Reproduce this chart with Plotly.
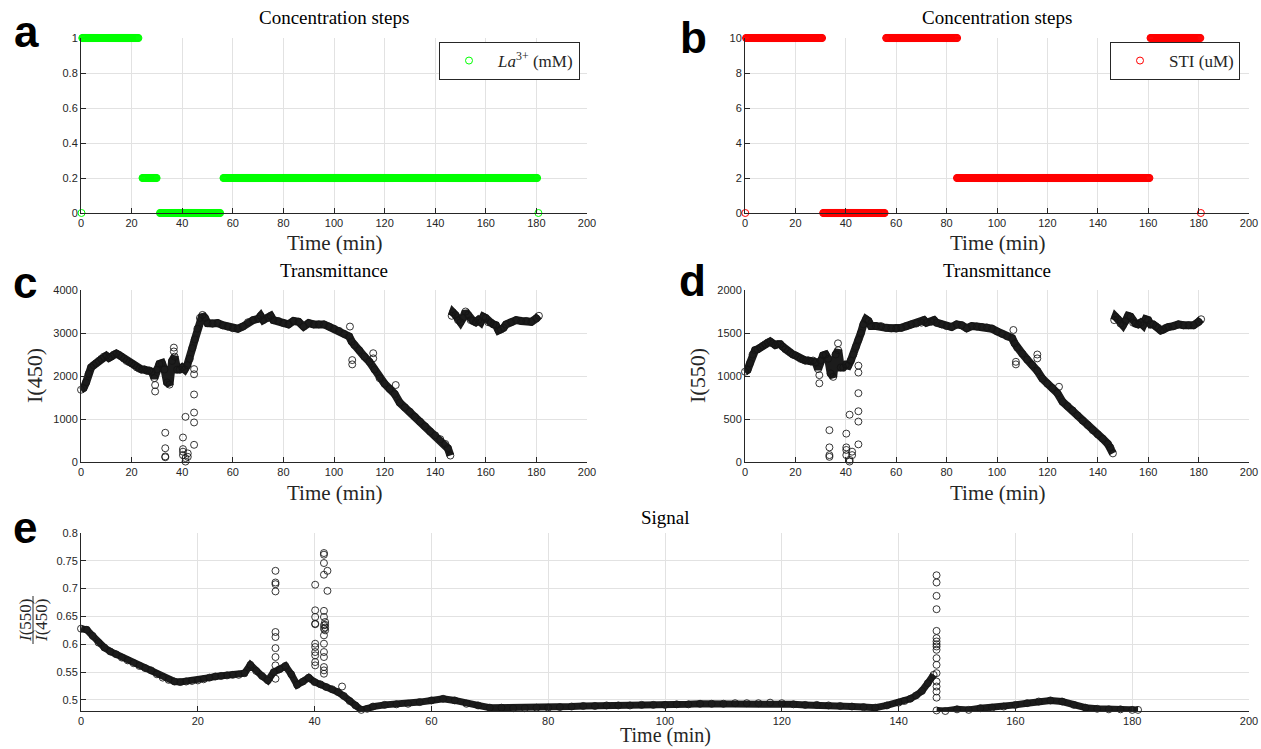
import numpy as np
import plotly.graph_objects as go

# ---------------- concentration steps (segment start, end in min, level) ----------------
la_start = [0.5, 24.3, 31.2, 56.3]
la_end = [22.8, 30.0, 55.0, 180.3]
la_level = [1.0, 0.2, 0.0, 0.2]
la_edge_t = [0.2, 180.8]          # lone zero readings at both ends

sti_start = [0.4, 31.0, 56.0, 84.1, 160.9]
sti_end = [30.6, 55.5, 84.3, 160.6, 180.7]
sti_level = [10, 0, 10, 2, 10]
sti_edge_t = [0.1, 180.9]

step_dt = 0.2   # logging interval of the step protocol (min)

# ---------------- transmittance, main trend (None = acquisition gap) ----------------
t_int = (list(range(0, 51)) + list(range(52, 71, 2)) + [71, 72, 74, 75, 76]
         + list(range(78, 107, 2)) + [107] + list(range(108, 145, 2)) + [145, 146]
         + [None] + [146.5] + list(range(147, 169)) + list(range(170, 181, 2)) + [181])

i450 = [1680, 1720, 1850, 2050, 2200, 2250, 2300, 2350, 2400, 2450,
        2470, 2420, 2450, 2500, 2520, 2490, 2450, 2400, 2350, 2320,
        2290, 2250, 2200, 2170, 2150, 2150, 2120, 2130, 2100, 1950,
        2150, 2280, 2300, 2150, 1850, 1800, 2350, 2450, 2150, 2150,
        2200, 2150, 2250, 2400, 2650, 2850, 3100, 3350, 3420, 3350,
        3230,
        3220, 3230, 3180, 3150, 3110, 3100, 3150, 3250, 3300, 3330,
        3400, 3300, 3350, 3400, 3300,
        3280, 3230, 3200, 3280, 3260, 3150, 3230, 3200, 3200, 3200, 3150, 3100, 3050, 2980, 2920,
        2800,
        2720, 2600, 2450, 2330, 2150, 1950, 1820, 1700, 1580, 1380,
        1270, 1170, 1050, 940, 830, 710, 620, 530, 420,
        320, 150,
        None,
        3400,
        3480, 3420, 3300, 3250, 3350, 3500, 3420, 3300, 3280, 3250, 3300,
        3250, 3380, 3350, 3250, 3240, 3200, 3180, 3060, 3080, 3120, 3200,
        3250, 3300, 3280, 3280, 3260, 3340,
        3400]

i550 = [1050, 1070, 1150, 1250, 1300, 1310, 1330, 1350, 1370, 1390,
        1400, 1380, 1360, 1370, 1370, 1340, 1310, 1290, 1270, 1250,
        1240, 1220, 1200, 1190, 1180, 1180, 1170, 1180, 1160, 1080,
        1180, 1240, 1250, 1200, 1030, 990, 1250, 1300, 1100, 1100,
        1130, 1120, 1180, 1250, 1340, 1420, 1500, 1600, 1660, 1640,
        1580,
        1580, 1580, 1560, 1555, 1550, 1560, 1580, 1600, 1610, 1620,
        1650, 1620, 1630, 1650, 1620,
        1600, 1580, 1570, 1600, 1590, 1555, 1580, 1575, 1570, 1565, 1550, 1520, 1490, 1460, 1440,
        1380,
        1330, 1260, 1190, 1130, 1060, 970, 910, 860, 800, 700,
        650, 600, 540, 480, 430, 370, 320, 270, 210,
        170, 100,
        None,
        1650,
        1690, 1660, 1610, 1590, 1640, 1700, 1690, 1620, 1610, 1600, 1620,
        1590, 1660, 1650, 1600, 1600, 1580, 1560, 1530, 1540, 1560, 1570,
        1580, 1600, 1590, 1590, 1590, 1630,
        1660]

# scattered readings off the trend
c_out_t = [29.3, 29.3, 33.3, 33.3, 33.3, 33.3, 36.7, 36.7, 40.3, 40.3, 40.3, 40.3,
           41.3, 41.3, 41.3, 42.2, 42.2, 44.7, 44.7, 44.7, 44.7, 44.7, 44.7,
           106.3, 107.2, 107.2, 115.5, 115.5, 124.4]
c_out_v = [1790, 1640, 680, 320, 130, 110, 2660, 2570, 570, 300, 240, 160,
           1050, 90, 10, 200, 120, 1570, 1150, 920, 400, 2040, 2160,
           3150, 2370, 2270, 2530, 2410, 1790]

d_out_t = [29.5, 29.5, 33.5, 33.5, 33.5, 33.5, 36.9, 40.2, 40.2, 40.2, 40.2,
           41.5, 41.5, 41.5, 42.5, 42.5, 45, 45, 45, 45, 45, 45,
           106.5, 107.5, 107.5, 116, 116, 124.6]
d_out_v = [1010, 915, 370, 170, 80, 60, 1380, 330, 170, 140, 80,
           550, 25, 5, 120, 80, 800, 590, 470, 205, 1120, 1040,
           1535, 1135, 1165, 1250, 1205, 875]

# ---------------- signal ratio ----------------
t_ratio = (list(range(0, 51)) + list(range(52, 141, 2)) + [141, 142, 143, 144, 145, 146]
           + [None] + [146.5] + list(range(148, 181, 2)) + [181])
ratio = [0.628, 0.626, 0.615, 0.603, 0.594, 0.587, 0.582, 0.576, 0.571, 0.566,
         0.561, 0.557, 0.553, 0.546, 0.540, 0.536, 0.533, 0.532, 0.533, 0.534,
         0.535, 0.537, 0.540, 0.542, 0.543, 0.544, 0.545, 0.545, 0.548, 0.563,
         0.552, 0.543, 0.535, 0.550, 0.555, 0.561, 0.546, 0.527, 0.533, 0.540,
         0.532, 0.528, 0.523, 0.519, 0.514, 0.507, 0.498, 0.490, 0.482, 0.484,
         0.488,
         0.491, 0.492, 0.493, 0.496, 0.499, 0.502, 0.499, 0.493, 0.490, 0.486,
         0.486, 0.485, 0.485, 0.486, 0.486, 0.487, 0.488, 0.489, 0.489, 0.490,
         0.490, 0.490, 0.491, 0.491, 0.491, 0.492, 0.492, 0.493, 0.493, 0.493,
         0.494, 0.494, 0.494, 0.495, 0.494, 0.492, 0.491, 0.491, 0.490, 0.489,
         0.488, 0.487, 0.486, 0.490, 0.495,
         0.498, 0.502, 0.508, 0.516, 0.530, 0.545,
         None,
         0.481,
         0.480, 0.483, 0.482, 0.485, 0.486, 0.488, 0.491, 0.494, 0.497, 0.499,
         0.497, 0.491, 0.486, 0.484, 0.483, 0.483, 0.482,
         0.482]

e_out_t = [33.3] * 10 + [40.1] * 11 + [41.6] * 15 + [41.8] * 4 + [42.2] * 2 + [44.7] + [146.5] * 17
e_out_v = [0.732, 0.711, 0.708, 0.695, 0.622, 0.613, 0.593, 0.577, 0.562, 0.538,
           0.707, 0.661, 0.649, 0.637, 0.636, 0.601, 0.595, 0.586, 0.580, 0.568, 0.562,
           0.764, 0.761, 0.746, 0.725, 0.660, 0.649, 0.634, 0.628, 0.616, 0.601,
           0.586, 0.577, 0.559, 0.553, 0.547,
           0.640, 0.635, 0.630, 0.625,
           0.732, 0.696,
           0.524,
           0.724, 0.711, 0.687, 0.663, 0.624, 0.611, 0.605, 0.600, 0.596, 0.590,
           0.575, 0.563, 0.548, 0.533, 0.524, 0.515, 0.504]

x_ticks = list(range(0, 201, 20))


def step_series(starts, ends, levels, edge_t):
    t, v = [], []
    for s, e, lv in zip(starts, ends, levels):
        seg = np.arange(s, e + 1e-9, step_dt)
        t.extend(seg.tolist())
        v.extend([lv] * len(seg))
    t = [edge_t[0]] + t + [edge_t[1]]
    v = [0] + v + [0]
    return t, v


W, H = 1261, 749
px = lambda x: x / W
py = lambda y: 1 - y / H

serif = "Liberation Serif, Times New Roman, serif"
tick_font = dict(family="Liberation Sans, Arial, sans-serif", size=11, color="#262626")


def ax(**kw):
    d = dict(showgrid=True, gridcolor="#e2e2e2", gridwidth=1, zeroline=False,
             showline=True, linecolor="#262626", linewidth=1, ticks="inside",
             ticklen=5, tickcolor="#262626", tickfont=tick_font, automargin=False)
    d.update(kw)
    return d


def time_axis(x0, x1, y_anchor):
    return ax(domain=[px(x0), px(x1)], range=[0, 200], tickvals=x_ticks, anchor=y_anchor)


fig = go.Figure()

dark = "#1c1c1c"
mk = dict(symbol="circle-open", size=7, color="rgba(20,20,20,0.85)", line=dict(width=1))

# panel a
la_t, la_v = step_series(la_start, la_end, la_level, la_edge_t)
fig.add_trace(go.Scatter(x=la_t, y=la_v, mode="markers", xaxis="x", yaxis="y",
                         name="<i>La</i><sup>3+</sup> (mM)", legend="legend",
                         marker=dict(symbol="circle-open", size=7, color="#00ff00", line=dict(width=1)),
                         cliponaxis=False))
# panel b
sti_t, sti_v = step_series(sti_start, sti_end, sti_level, sti_edge_t)
fig.add_trace(go.Scatter(x=sti_t, y=sti_v, mode="markers", xaxis="x2", yaxis="y2",
                         name="STI (uM)", legend="legend2",
                         marker=dict(symbol="circle-open", size=7, color="#ff0000", line=dict(width=1)),
                         cliponaxis=False))

# panels c, d, e
for xa, ya, t, v, ot, ov, lw in [("x3", "y3", t_int, i450, c_out_t, c_out_v, 8),
                                 ("x4", "y4", t_int, i550, d_out_t, d_out_v, 8),
                                 ("x5", "y5", t_ratio, ratio, e_out_t, e_out_v, 7)]:
    fig.add_trace(go.Scatter(x=t, y=v, mode="lines+markers", xaxis=xa, yaxis=ya,
                             line=dict(color=dark, width=lw), marker=mk,
                             showlegend=False, cliponaxis=False))
    fig.add_trace(go.Scatter(x=ot, y=ov, mode="markers", xaxis=xa, yaxis=ya,
                             marker=mk, showlegend=False, cliponaxis=False))

legend_font = dict(family=serif, size=17, color="#262626")

fig.update_layout(
    width=W, height=H, margin=dict(l=0, r=0, t=0, b=0, autoexpand=False),
    paper_bgcolor="white", plot_bgcolor="white", showlegend=True,
    xaxis=time_axis(81, 587, "y"),
    yaxis=ax(domain=[py(213), py(38)], range=[0, 1], tickvals=[0, 0.2, 0.4, 0.6, 0.8, 1],
             ticktext=["0", "0.2", "0.4", "0.6", "0.8", "1"], anchor="x"),
    xaxis2=time_axis(745, 1249, "y2"),
    yaxis2=ax(domain=[py(213), py(38)], range=[0, 10], tickvals=[0, 2, 4, 6, 8, 10], anchor="x2"),
    xaxis3=time_axis(81, 587, "y3"),
    yaxis3=ax(domain=[py(462), py(290)], range=[0, 4000], tickvals=[0, 1000, 2000, 3000, 4000],
              anchor="x3"),
    xaxis4=time_axis(745, 1249, "y4"),
    yaxis4=ax(domain=[py(462), py(290)], range=[0, 2000], tickvals=[0, 500, 1000, 1500, 2000],
              anchor="x4"),
    xaxis5=time_axis(81, 1249, "y5"),
    yaxis5=ax(domain=[py(711), py(533)], range=[0.48, 0.8],
              tickvals=[0.5, 0.55, 0.6, 0.65, 0.7, 0.75, 0.8],
              ticktext=["0.5", "0.55", "0.6", "0.65", "0.7", "0.75", "0.8"], anchor="x5"),
    legend=dict(x=px(580), y=py(61), xanchor="right", yanchor="middle",
                bordercolor="#262626", borderwidth=1, bgcolor="white",
                font=legend_font, tracegroupgap=0, itemwidth=48),
    legend2=dict(x=px(1240), y=py(61), xanchor="right", yanchor="middle",
                 bordercolor="#262626", borderwidth=1, bgcolor="white",
                 font=legend_font, tracegroupgap=0, itemwidth=48),
)

ann = []


def add_text(txt, x, y, font, angle=0):
    ann.append(dict(text=txt, x=px(x), y=py(y), xref="paper", yref="paper", textangle=angle,
                    showarrow=False, font=font, xanchor="center", yanchor="middle"))


title_font = dict(family=serif, size=19, color="#000000")
for txt, x, y in [("Concentration steps", 334, 17), ("Concentration steps", 997, 17),
                  ("Transmittance", 334, 270), ("Transmittance", 997, 270), ("Signal", 665, 517)]:
    add_text(txt, x, y, title_font)

xlab_font = dict(family=serif, size=21, color="#262626")
for x, y in [(334, 243), (997, 243), (334, 493), (997, 493)]:
    add_text("Time (min)", x, y, xlab_font)
add_text("Time (min)", 665, 735, dict(family=serif, size=20, color="#262626"))

ylab_font = dict(family=serif, size=22, color="#262626")
add_text("I(450)", 34, 376, ylab_font, -90)
add_text("I(550)", 697, 376, ylab_font, -90)

letter_font = dict(family="Liberation Sans, Arial, sans-serif", size=44, color="#000000")
for txt, x, y in [("a", 26, 31), ("b", 693, 37), ("c", 25, 282), ("d", 692, 280), ("e", 25, 527)]:
    add_text("<b>%s</b>" % txt, x, y, letter_font)

frac_font = dict(family=serif, size=17, color="#262626")
add_text("<i>I</i>(550)", 25, 620, frac_font, -90)
add_text("<i>I</i>(450)", 41, 620, frac_font, -90)

fig.update_layout(annotations=ann)
fig.add_shape(type="line", xref="paper", yref="paper", x0=px(33), x1=px(33),
              y0=py(596), y1=py(644), line=dict(color="#262626", width=1))

# drop the default page margin so the figure sits at the window's corner
fig.write_html("out.html", config={"displayModeBar": False},
               post_script="document.body.style.margin='0';document.body.style.overflow='hidden';")
